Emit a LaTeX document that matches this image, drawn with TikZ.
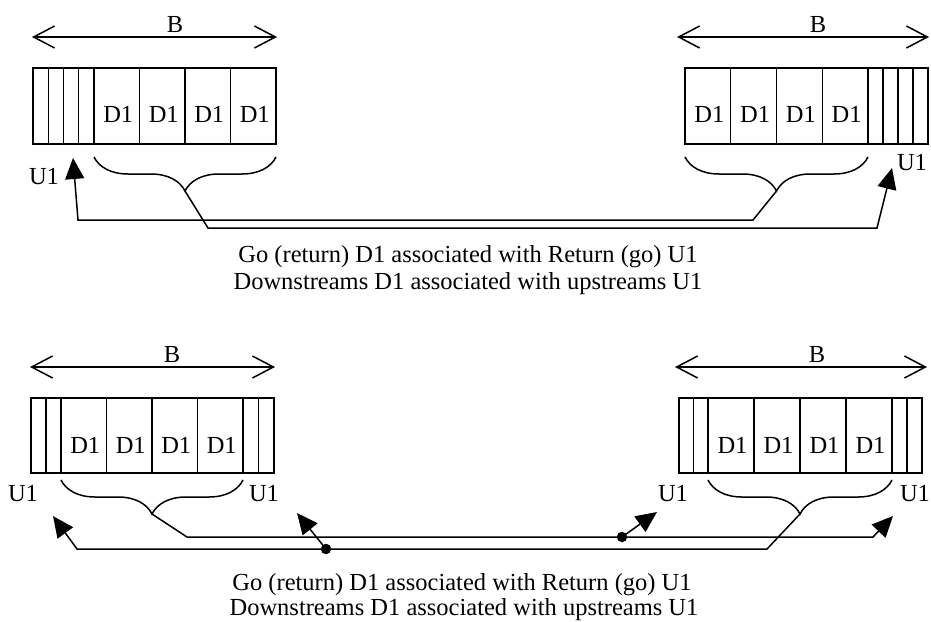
\documentclass[tikz,border=0pt]{standalone}
\usepackage{fontspec}
\setmainfont{Liberation Serif}
\usetikzlibrary{arrows.meta,decorations.pathreplacing}
\tikzset{
  txt/.style={font=\fontsize{24.5}{29}\selectfont, inner sep=0pt, anchor=base},
  outerbox/.style={line width=1.5pt},
  divider/.style={line width=1.1pt},
  barb/.style={line width=1.5pt, {Straight Barb[length=21pt,width=22pt]}-{Straight Barb[length=21pt,width=22pt]}},
  fillarrow/.style={line width=1.5pt, line join=miter, -{Triangle[length=21pt,width=19pt]}},
  brc/.style={line width=1.5pt, decorate, decoration={brace, amplitude=34pt}},
  dot/.style={circle, fill=black, inner sep=0pt, minimum size=10.5pt},
}
\begin{document}
\begin{tikzpicture}[x=1pt,y=-1pt]
\useasboundingbox (0,0) rectangle (931,621);

% ---------- top left ----------
\coordinate (tlBl) at (32,37); \coordinate (tlBr) at (277,37);
\draw[barb] (tlBl) -- (tlBr);
\node[txt] (tlB) at (175,32) {B};
\draw[outerbox] (33,68) rectangle (276,144);
\foreach \x in {48.25,63.5,78.75,94,139.5,185,230.5} \draw[divider] (\x,68) -- (\x,144);
\foreach \x/\n in {116.75/1,162.25/2,207.75/3,253.25/4} \node[txt] (tld\n) at (\x+1.5,122) {D1};
\node[txt] (tlU) at (44,184) {U1};
\coordinate (tlbrA) at (276,157); \coordinate (tlbrB) at (94,157);
\draw[brc] (tlbrA) -- (tlbrB);
\coordinate (tltip) at (185,191);

% ---------- top right ----------
\coordinate (trBl) at (677,37); \coordinate (trBr) at (929,37);
\draw[barb] (trBl) -- (trBr);
\node[txt] (trB) at (818,32) {B};
\draw[outerbox] (685,68) rectangle (928,144);
\foreach \x in {730.75,776.5,822.25,868,883,898,913} \draw[divider] (\x,68) -- (\x,144);
\foreach \x/\n in {707.875/1,753.625/2,799.375/3,845.125/4} \node[txt] (trd\n) at (\x+1.5,122) {D1};
\node[txt] (trU) at (912,170) {U1};
\coordinate (trbrA) at (868,157); \coordinate (trbrB) at (685,157);
\draw[brc] (trbrA) -- (trbrB);
\coordinate (trtip) at (776.5,191);

% ---------- top connectors ----------
\coordinate (ta1) at (753,220); \coordinate (ta2) at (78,220); \coordinate (taE) at (73,158);
\draw[fillarrow] (trtip) -- (ta1) -- (ta2) -- (taE);
\coordinate (tb1) at (208,228); \coordinate (tb2) at (877,228); \coordinate (tbE) at (892,168);
\draw[fillarrow] (tltip) -- (tb1) -- (tb2) -- (tbE);

\node[txt] (tt1) at (468,262) {Go (return) D1 associated with Return (go) U1};
\node[txt] (tt2) at (468,289) {Downstreams D1 associated with upstreams U1};

% ---------- bottom left ----------
\coordinate (blBl) at (30,367); \coordinate (blBr) at (275,367);
\draw[barb] (blBl) -- (blBr);
\node[txt] (blB) at (172,362) {B};
\draw[outerbox] (31,398) rectangle (274,473);
\foreach \x in {46,61,106.5,152,197.5,243,258.5} \draw[divider] (\x,398) -- (\x,473);
\foreach \x/\n in {83.75/1,129.25/2,174.75/3,220.25/4} \node[txt] (bld\n) at (\x+1.5,453) {D1};
\node[txt] (blUl) at (23,501) {U1};
\node[txt] (blUr) at (264,501) {U1};
\coordinate (blbrA) at (243,480); \coordinate (blbrB) at (61,480);
\draw[brc] (blbrA) -- (blbrB);
\coordinate (bltip) at (152,514);

% ---------- bottom right ----------
\coordinate (brBl) at (675,367); \coordinate (brBr) at (927,367);
\draw[barb] (brBl) -- (brBr);
\node[txt] (brB) at (817,362) {B};
\draw[outerbox] (679,398) rectangle (922,473);
\foreach \x in {693.5,708,754,800,846,892,907} \draw[divider] (\x,398) -- (\x,473);
\foreach \x/\n in {731/1,777/2,823/3,869/4} \node[txt] (brd\n) at (\x+1.5,453) {D1};
\node[txt] (brUl) at (673,501) {U1};
\node[txt] (brUr) at (915,501) {U1};
\coordinate (brbrA) at (892,480); \coordinate (brbrB) at (708,480);
\draw[brc] (brbrA) -- (brbrB);
\coordinate (brtip) at (800,514);

% ---------- bottom connectors ----------
\coordinate (ba1) at (187,537); \coordinate (ba2) at (873,537); \coordinate (baE) at (893,516);
\draw[fillarrow] (bltip) -- (ba1) -- (ba2) -- (baE);
\coordinate (bb1) at (767,549); \coordinate (bb2) at (77,549); \coordinate (bbE) at (53,516);
\draw[fillarrow] (brtip) -- (bb1) -- (bb2) -- (bbE);

\node[dot] (dot1) at (326,549) {};
\coordinate (dot1E) at (297,513);
\draw[fillarrow] (dot1.center) -- (dot1E);
\node[dot] (dot2) at (622,537) {};
\coordinate (dot2E) at (657,512);
\draw[fillarrow] (dot2.center) -- (dot2E);

\node[txt] (bt1) at (462,590) {Go (return) D1 associated with Return (go) U1};
\node[txt] (bt2) at (464,615) {Downstreams D1 associated with upstreams U1};
\end{tikzpicture}
\end{document}
